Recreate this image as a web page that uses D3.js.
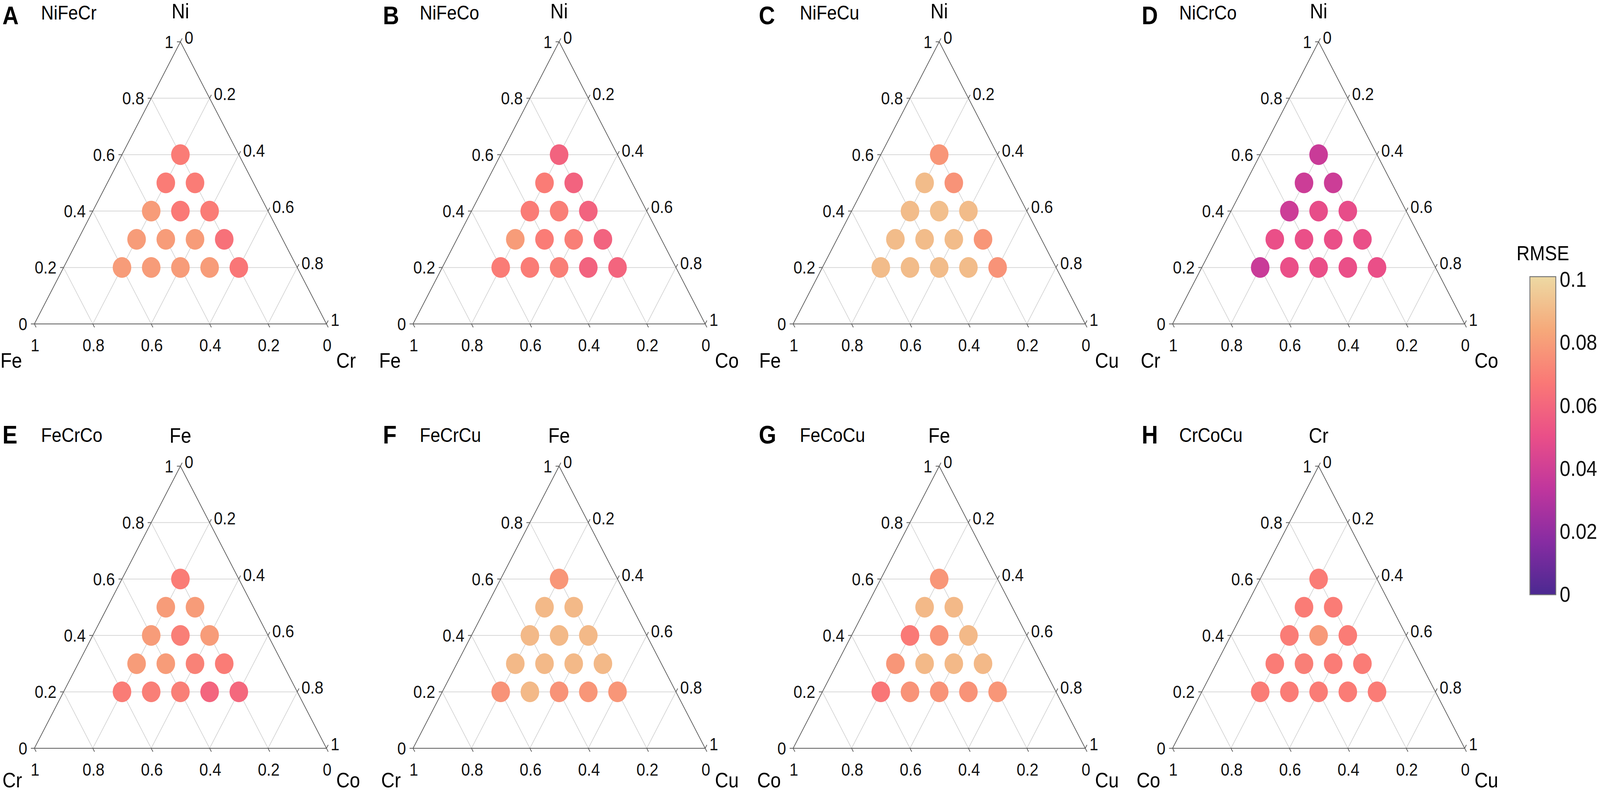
<!DOCTYPE html>
<html>
<head>
<meta charset="utf-8">
<script src="https://cdn.jsdelivr.net/npm/d3@7"></script>
<style>
  html, body { margin: 0; padding: 0; background: #fff; overflow: hidden; }
  svg { display: block; font-family: "Liberation Sans", Arial, Helvetica, sans-serif; }
</style>
</head>
<body>
<div id="chart"></div>
<script>
// Compositions shared by all panels: a = top element, b = bottom-left element, c = 1 - a - b
var fracTop  = [0.6, 0.5, 0.5, 0.4, 0.4, 0.4, 0.3, 0.3, 0.3, 0.3, 0.2, 0.2, 0.2, 0.2, 0.2];
var fracLeft = [0.2, 0.3, 0.2, 0.4, 0.3, 0.2, 0.5, 0.4, 0.3, 0.2, 0.6, 0.5, 0.4, 0.3, 0.2];

// Panels
var panelLetters  = ["A", "B", "C", "D", "E", "F", "G", "H"];
var panelNames    = ["NiFeCr", "NiFeCo", "NiFeCu", "NiCrCo", "FeCrCo", "FeCrCu", "FeCoCu", "CrCoCu"];
var topElements   = ["Ni", "Ni", "Ni", "Ni", "Fe", "Fe", "Fe", "Cr"];
var leftElements  = ["Fe", "Fe", "Fe", "Cr", "Cr", "Cr", "Co", "Co"];
var rightElements = ["Cr", "Co", "Cu", "Co", "Co", "Cu", "Cu", "Cu"];

// RMSE per composition (same order as fracTop / fracLeft)
var rmseA = [0.068, 0.068, 0.068, 0.079, 0.067, 0.068, 0.079, 0.079, 0.079, 0.064, 0.079, 0.079, 0.079, 0.079, 0.066];
var rmseB = [0.058, 0.068, 0.058, 0.068, 0.069, 0.058, 0.079, 0.068, 0.069, 0.058, 0.068, 0.068, 0.069, 0.058, 0.059];
var rmseC = [0.077, 0.090, 0.076, 0.090, 0.091, 0.090, 0.090, 0.090, 0.090, 0.077, 0.090, 0.090, 0.090, 0.090, 0.076];
var rmseD = [0.037, 0.038, 0.038, 0.038, 0.049, 0.049, 0.050, 0.050, 0.050, 0.050, 0.037, 0.050, 0.050, 0.050, 0.050];
var rmseE = [0.068, 0.079, 0.079, 0.079, 0.069, 0.079, 0.079, 0.079, 0.070, 0.068, 0.068, 0.069, 0.069, 0.059, 0.060];
var rmseF = [0.077, 0.089, 0.089, 0.089, 0.089, 0.089, 0.089, 0.089, 0.089, 0.089, 0.076, 0.089, 0.076, 0.077, 0.077];
var rmseG = [0.077, 0.089, 0.089, 0.067, 0.076, 0.089, 0.077, 0.089, 0.089, 0.089, 0.066, 0.076, 0.076, 0.076, 0.077];
var rmseH = [0.068, 0.068, 0.068, 0.068, 0.078, 0.068, 0.068, 0.069, 0.068, 0.068, 0.068, 0.068, 0.068, 0.068, 0.068];
var panelRmse = [rmseA, rmseB, rmseC, rmseD, rmseE, rmseF, rmseG, rmseH];

// Ticks
var axisTicks = [0, 0.2, 0.4, 0.6, 0.8, 1];
var rmseTicks = [0, 0.02, 0.04, 0.06, 0.08, 0.1];
var colorStops = ["#4b2991", "#872ca2", "#c0369d", "#ea4f88", "#fa7876", "#f6a97a", "#edd9a3"];

// Layout (in figure units, the svg is stretched to the window)
var W = 4563, H = 2032;
var panelLeft = [98, 1178, 2262, 3344];
var letterX = [7, 1092, 2164, 3256];
var rowBase = [829, 1915];
var letterY = [62, 1135];
var titleY = [50, 1131];
var cornerDy = [112, 100];
var side = 833, triH = 722;

var svg = d3.select("#chart")
            .append("svg")
            .attr("viewBox", "0 0 " + W + " " + H)
            .attr("preserveAspectRatio", "none")
            .style("width", "100vw")
            .style("height", "100vh");

var color = d3.scaleLinear()
              .domain(colorStops.map(function(c, i) { return 0.1 * i / (colorStops.length - 1); }))
              .range(colorStops)
              .clamp(true);

var fmt = d3.format("~g");

function drawPanel(i) {
    var col = i % 4, row = Math.floor(i / 4);
    var left = panelLeft[col], base = rowBase[row];

    var x = d3.scaleLinear().domain([0, 1]).range([left, left + side]);
    var y = d3.scaleLinear().domain([0, 1]).range([base, base - triH]);

    // ternary (a, b) -> screen
    function pt(a, b) { var c = 1 - a - b; return [x(c + a / 2), y(a)]; }

    var g = svg.append("g");

    // Grid
    var inner = axisTicks.filter(function(t) { return t > 0 && t < 1; });
    var lines = [];
    inner.forEach(function(t) {
        lines.push([pt(t, 1 - t), pt(t, 0)]);      // a = t
        lines.push([pt(1 - t, t), pt(0, t)]);      // b = t
        lines.push([pt(1 - t, 0), pt(0, 1 - t)]);  // c = t
    });
    g.append("g")
     .attr("stroke", "#d2d2d2")
     .attr("stroke-width", 1.8)
     .selectAll("line")
     .data(lines)
     .enter().append("line")
     .attr("x1", function(d) { return d[0][0]; })
     .attr("y1", function(d) { return d[0][1]; })
     .attr("x2", function(d) { return d[1][0]; })
     .attr("y2", function(d) { return d[1][1]; });

    // Outline
    g.append("path")
     .attr("d", d3.line()([pt(1, 0), pt(0, 1), pt(0, 0)]) + "Z")
     .attr("fill", "none")
     .attr("stroke", "#5a5a5a")
     .attr("stroke-width", 2);

    var tickG = g.append("g").attr("stroke", "#5a5a5a").attr("stroke-width", 2);
    var labG = g.append("g").attr("font-size", 45).attr("fill", "#111");

    axisTicks.forEach(function(t) {
        // a axis (left side)
        var p = pt(t, 1 - t);
        tickG.append("line").attr("x1", p[0]).attr("y1", p[1]).attr("x2", p[0] - 10).attr("y2", p[1]);
        labG.append("text").attr("x", p[0] - 20).attr("y", p[1]).attr("dy", "0.35em")
            .attr("text-anchor", "end").text(fmt(t));

        // c axis (right side)
        p = pt(1 - t, 0);
        tickG.append("line").attr("x1", p[0]).attr("y1", p[1]).attr("x2", p[0] + 5).attr("y2", p[1] - 8.7);
        labG.append("text").attr("x", p[0] + 12).attr("y", p[1] - 11).attr("dy", "0.35em")
            .attr("text-anchor", "start").text(fmt(t));

        // b axis (bottom)
        p = pt(0, t);
        tickG.append("line").attr("x1", p[0]).attr("y1", p[1]).attr("x2", p[0] + 5).attr("y2", p[1] + 8.7);
        labG.append("text").attr("x", p[0] + 2).attr("y", base + 70)
            .attr("text-anchor", "middle").text(fmt(t));
    });

    // Points
    var rmse = panelRmse[i];
    g.append("g")
     .selectAll("circle")
     .data(rmse)
     .enter().append("circle")
     .attr("cx", function(d, k) { return pt(fracTop[k], fracLeft[k])[0]; })
     .attr("cy", function(d, k) { return pt(fracTop[k], fracLeft[k])[1]; })
     .attr("r", 26.5)
     .attr("fill", function(d) { return color(d); });

    // Axis titles
    g.append("text").attr("x", x(0.5)).attr("y", y(1) - 60).attr("text-anchor", "middle")
     .attr("font-size", 53).text(topElements[i]);
    g.append("text").attr("x", left - 35).attr("y", base + cornerDy[row]).attr("text-anchor", "end")
     .attr("font-size", 53).text(leftElements[i]);
    g.append("text").attr("x", left + side + 28).attr("y", base + cornerDy[row]).attr("text-anchor", "start")
     .attr("font-size", 53).text(rightElements[i]);

    // Panel letter and name
    g.append("text").attr("x", letterX[col]).attr("y", letterY[row])
     .attr("font-size", 64).attr("font-weight", "bold").text(panelLetters[i]);
    g.append("text").attr("x", left + 19).attr("y", titleY[row])
     .attr("font-size", 50).text(panelNames[i]);
}

for (var i = 0; i < panelNames.length; ++i) {
    drawPanel(i);
}

// Colorbar
var cbX = 4363, cbW = 74, cbTop = 708, cbBottom = 1522;
var cbScale = d3.scaleLinear().domain([0, 0.1]).range([1519, 713]);

var grad = svg.append("defs").append("linearGradient")
              .attr("id", "cbGrad")
              .attr("x1", 0).attr("y1", 1).attr("x2", 0).attr("y2", 0);
grad.selectAll("stop")
    .data(colorStops)
    .enter().append("stop")
    .attr("offset", function(d, i) { return i / (colorStops.length - 1); })
    .attr("stop-color", function(d) { return d; });

svg.append("rect")
   .attr("x", cbX).attr("y", cbTop)
   .attr("width", cbW).attr("height", cbBottom - cbTop)
   .attr("fill", "url(#cbGrad)")
   .attr("stroke", "#777")
   .attr("stroke-width", 2.5);

var cbAxis = svg.append("g")
                .attr("transform", "translate(" + (cbX + cbW) + ",3)")
                .call(d3.axisRight(cbScale).tickValues(rmseTicks).tickSize(0).tickPadding(11).tickFormat(fmt));
cbAxis.select(".domain").remove();
cbAxis.selectAll("text")
      .attr("font-size", 55)
      .attr("font-family", "'Liberation Sans', Arial, sans-serif")
      .attr("fill", "#111");

svg.append("text")
   .attr("x", cbX + cbW / 2).attr("y", 666)
   .attr("text-anchor", "middle")
   .attr("font-size", 52)
   .text("RMSE");
</script>
</body>
</html>
